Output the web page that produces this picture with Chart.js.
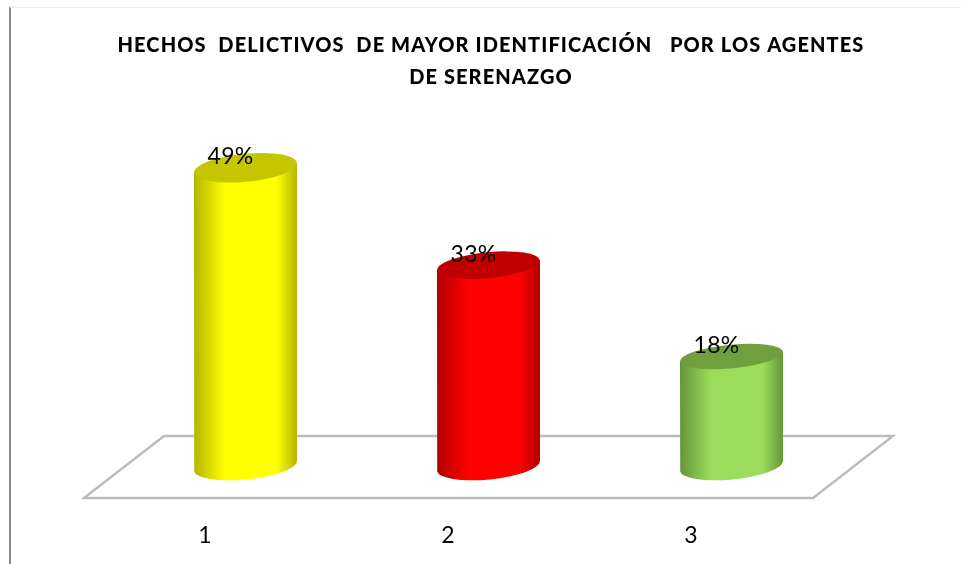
<!DOCTYPE html>
<html>
<head>
<meta charset="utf-8">
<title>Hechos delictivos</title>
<script src="https://cdn.jsdelivr.net/npm/chart.js@4"></script>
<style>
    html, body { margin: 0; padding: 0; background: #fff; }
    canvas { display: block; }
</style>
</head>
<body>
<canvas id="myChart" width="961" height="564"></canvas>
<script>
const categories = ["1", "2", "3"];
const percentValues = [49, 33, 18];
const titleLines = ["HECHOS  DELICTIVOS  DE MAYOR IDENTIFICACIÓN   POR LOS AGENTES", "DE SERENAZGO"];

const barColors = ["#ffff00", "#ff0000", "#9bdc5a"];
const edgeColors = ["#b4b400", "#b00000", "#64963a"];
const capColors = ["#c6c600", "#c00000", "#6f9f3e"];

// draws the floor, the cylinders and the frame round the library's bar elements
const cylinderPlugin = {
    id: "cylinders",
    beforeDraw(chart) {
        const ctx = chart.ctx;
        ctx.save();
        ctx.strokeStyle = "#8c8c8c";
        ctx.lineWidth = 2;
        ctx.beginPath();
        ctx.moveTo(10, 7);
        ctx.lineTo(10, 564);
        ctx.stroke();
        ctx.strokeStyle = "#efefef";
        ctx.lineWidth = 1;
        ctx.beginPath();
        ctx.moveTo(10, 7.5);
        ctx.lineTo(961, 7.5);
        ctx.stroke();
        ctx.restore();
        ctx.letterSpacing = "1.1px";
    },
    beforeDatasetsDraw(chart) {
        const ctx = chart.ctx;
        const area = chart.chartArea;
        ctx.save();
        ctx.strokeStyle = "#bcbcbc";
        ctx.lineWidth = 2.4;
        ctx.filter = "blur(0.5px)";
        ctx.beginPath();
        ctx.moveTo(area.left - 40, area.bottom + 32);
        ctx.lineTo(area.left + 40, area.bottom - 30);
        ctx.lineTo(area.right + 40, area.bottom - 30);
        ctx.lineTo(area.right - 40, area.bottom + 32);
        ctx.closePath();
        ctx.stroke();
        ctx.restore();
    },
    beforeDatasetDraw(chart, args) {
        const ctx = chart.ctx;
        const meta = chart.getDatasetMeta(args.index);
        const tilt = -5.5 * Math.PI / 180;
        meta.data.forEach((bar, i) => {
            const half = bar.width / 2;
            const topY = bar.y;
            const baseY = bar.base;
            const capRy = 10.5 + (baseY - topY) * 0.012;
            const baseRy = 13.5;
            const dy = Math.sin(tilt) * half;

            const grad = ctx.createLinearGradient(bar.x - half, 0, bar.x + half, 0);
            grad.addColorStop(0, edgeColors[i]);
            grad.addColorStop(0.3, barColors[i]);
            grad.addColorStop(0.8, barColors[i]);
            grad.addColorStop(1, edgeColors[i]);

            ctx.save();
            ctx.filter = "blur(0.7px)";
            ctx.fillStyle = grad;
            ctx.beginPath();
            ctx.moveTo(bar.x - half, topY - dy);
            ctx.lineTo(bar.x + half, topY + dy);
            ctx.lineTo(bar.x + half, baseY + dy);
            ctx.ellipse(bar.x, baseY, half, baseRy, tilt, 0, Math.PI);
            ctx.closePath();
            ctx.fill();

            ctx.fillStyle = capColors[i];
            ctx.beginPath();
            ctx.ellipse(bar.x, topY, half, capRy, tilt, 0, Math.PI * 2);
            ctx.fill();
            ctx.restore();
        });
        return false;
    },
    afterDatasetsDraw(chart) {
        const ctx = chart.ctx;
        const meta = chart.getDatasetMeta(0);
        ctx.save();
        ctx.fillStyle = "#000";
        ctx.font = "23px Lato";
        ctx.letterSpacing = "0.3px";
        ctx.textAlign = "center";
        ctx.textBaseline = "middle";
        meta.data.forEach((bar, i) => {
            ctx.fillText(percentValues[i] + "%", bar.x - 15, bar.y - 11);
        });
        ctx.restore();
    }
};

new Chart("myChart", {
    type: "bar",
    data: {
        labels: categories,
        datasets: [{
            data: percentValues,
            backgroundColor: barColors,
            categoryPercentage: 1,
            barPercentage: 0.424
        }]
    },
    options: {
        responsive: false,
        animation: false,
        layout: {padding: {left: 21, top: 29}},
        plugins: {
            legend: {display: false},
            tooltip: {enabled: false},
            title: {
                display: true,
                text: titleLines,
                color: "#000",
                font: {family: "Lato", size: 20, weight: "900", lineHeight: 1.62},
                padding: {top: 0, bottom: 7}
            }
        },
        scales: {
            x: {
                grid: {display: false, drawTicks: false},
                border: {display: false},
                ticks: {color: "#000", font: {family: "Lato", size: 23}, padding: 56, labelOffset: -40, maxRotation: 0},
                afterFit: (scale) => { scale.height = 98; }
            },
            y: {
                min: 0,
                max: 60,
                grid: {display: false},
                border: {display: false},
                ticks: {display: false},
                afterFit: (scale) => { scale.width = 103; }
            },
            rightSpace: {
                position: "right",
                grid: {display: false},
                border: {display: false},
                ticks: {display: false},
                afterFit: (scale) => { scale.width = 108; }
            }
        }
    },
    plugins: [cylinderPlugin]
});
</script>
</body>
</html>
